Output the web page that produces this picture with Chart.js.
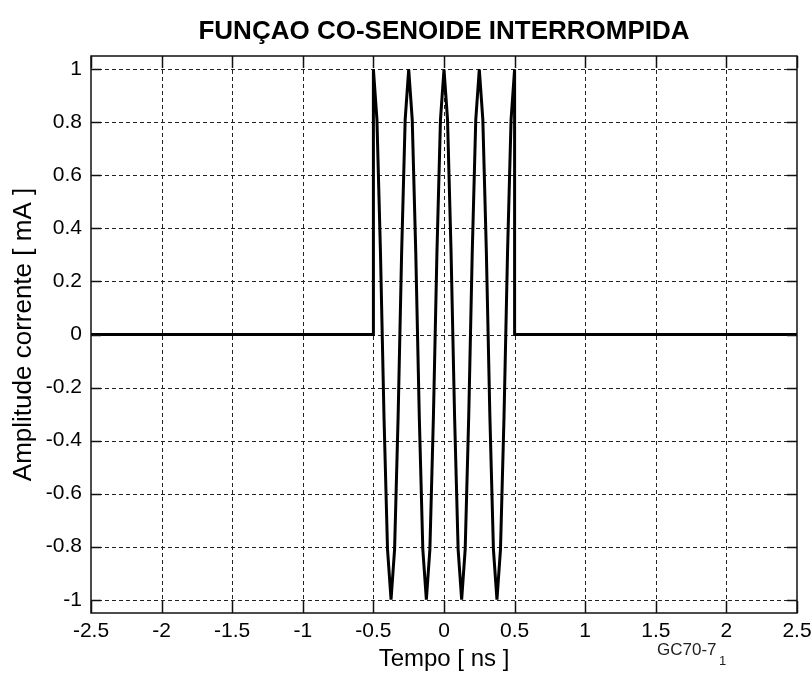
<!DOCTYPE html>
<html lang="pt">
<head>
    <meta charset="UTF-8">
    <title>Função co-senoide interrompida</title>
    <script src="https://cdn.jsdelivr.net/npm/chart.js"></script>
    <style>
        body { margin: 0; background: white; }
        #wrap { width: 812px; height: 675px; }
    </style>
</head>
<body>
    <div id="wrap"><canvas id="pulseChart" width="812" height="675"></canvas></div>

    <script>
        // sampled waveform: zero, then 4 cycles of the cosine between -0.5 and 0.5 ns, then zero
        const timeNs = [
            -2.5, -0.5, -0.5,
            -0.475, -0.45, -0.425, -0.4, -0.375, -0.35, -0.325, -0.3, -0.275, -0.25,
            -0.225, -0.2, -0.175, -0.15, -0.125, -0.1, -0.075, -0.05, -0.025, 0,
            0.025, 0.05, 0.075, 0.1, 0.125, 0.15, 0.175, 0.2, 0.225, 0.25,
            0.275, 0.3, 0.325, 0.35, 0.375, 0.4, 0.425, 0.45, 0.475, 0.5,
            0.5, 2.5
        ];
        const currentMa = [
            0, 0, 1,
            0.81, 0.31, -0.31, -0.81, -1, -0.81, -0.31, 0.31, 0.81, 1,
            0.81, 0.31, -0.31, -0.81, -1, -0.81, -0.31, 0.31, 0.81, 1,
            0.81, 0.31, -0.31, -0.81, -1, -0.81, -0.31, 0.31, 0.81, 1,
            0.81, 0.31, -0.31, -0.81, -1, -0.81, -0.31, 0.31, 0.81, 1,
            0, 0
        ];
        const xTicks = [-2.5, -2, -1.5, -1, -0.5, 0, 0.5, 1, 1.5, 2, 2.5];
        const yTicks = [-1, -0.8, -0.6, -0.4, -0.2, 0, 0.2, 0.4, 0.6, 0.8, 1];

        const FONT = "'Liberation Sans', Arial, sans-serif";
        const TITLE = 'FUNÇAO CO-SENOIDE INTERROMPIDA';

        // dashed grid, box, inward tick marks, title over the axes box
        const frameGrid = {
            id: 'frameGrid',
            beforeDatasetsDraw(chart) {
                const ctx = chart.ctx;
                const { left, right, top, bottom } = chart.chartArea;
                const xs = chart.scales.x, ys = chart.scales.y;
                ctx.save();
                ctx.strokeStyle = '#222';
                ctx.lineWidth = 1;
                ctx.setLineDash([4, 3]);
                ctx.beginPath();
                xTicks.forEach(v => {
                    const px = Math.round(xs.getPixelForValue(v)) + 0.5;
                    if (px < left + 2 || px > right - 2) return;
                    ctx.moveTo(px, top); ctx.lineTo(px, bottom);
                });
                yTicks.forEach(v => {
                    const py = Math.round(ys.getPixelForValue(v)) + 0.5;
                    ctx.moveTo(left, py); ctx.lineTo(right, py);
                });
                ctx.stroke();
                ctx.restore();
            },
            afterDatasetsDraw(chart) {
                const ctx = chart.ctx;
                const { left, right, top, bottom } = chart.chartArea;
                const xs = chart.scales.x, ys = chart.scales.y;
                ctx.save();
                ctx.strokeStyle = '#111';
                ctx.lineWidth = 1.5;
                ctx.beginPath();
                xTicks.forEach(v => {
                    const px = Math.round(xs.getPixelForValue(v)) + 0.5;
                    ctx.moveTo(px, bottom); ctx.lineTo(px, bottom - 12);
                    ctx.moveTo(px, top); ctx.lineTo(px, top + 12);
                });
                yTicks.forEach(v => {
                    const py = Math.round(ys.getPixelForValue(v)) + 0.5;
                    ctx.moveTo(left, py); ctx.lineTo(left + 10, py);
                    ctx.moveTo(right, py); ctx.lineTo(right - 10, py);
                });
                ctx.stroke();
                ctx.strokeRect(left, top, right - left, bottom - top);

                ctx.fillStyle = '#000';
                ctx.textAlign = 'center';
                ctx.textBaseline = 'middle';
                ctx.font = 'bold 26px ' + FONT;
                ctx.fillText(TITLE, (left + right) / 2, 32);

                // figure tag under the x axis
                ctx.fillStyle = '#222';
                ctx.textBaseline = 'alphabetic';
                ctx.textAlign = 'left';
                ctx.font = '17px ' + FONT;
                ctx.fillText('GC70-7', 657, 655);
                ctx.font = '13px ' + FONT;
                ctx.fillText('1', 719, 665);
                ctx.restore();
            }
        };

        new Chart(document.getElementById('pulseChart'), {
            type: 'scatter',
            data: {
                datasets: [{
                    data: timeNs.map((t, i) => ({ x: t, y: currentMa[i] })),
                    showLine: true,
                    borderColor: '#000',
                    borderWidth: 3,
                    pointRadius: 0,
                    tension: 0
                }]
            },
            options: {
                responsive: false,
                animation: false,
                layout: { padding: { left: 0, right: 15, top: 56, bottom: 0 } },
                plugins: {
                    legend: { display: false },
                    tooltip: { enabled: false },
                    title: { display: false }
                },
                scales: {
                    x: {
                        type: 'linear',
                        min: -2.5,
                        max: 2.5,
                        afterBuildTicks: s => { s.ticks = xTicks.map(v => ({ value: v })); },
                        afterFit: s => { s.height = 62; s.paddingLeft = 0; s.paddingRight = 0; },
                        grid: { display: false, drawTicks: false },
                        border: { display: false },
                        ticks: {
                            color: '#000',
                            padding: 6,
                            maxRotation: 0,
                            font: { family: FONT, size: 21 },
                            callback: v => String(v)
                        },
                        title: {
                            display: true,
                            text: 'Tempo [ ns ]',
                            color: '#000',
                            font: { family: FONT, size: 24 },
                            padding: { top: 0, bottom: 1 }
                        }
                    },
                    y: {
                        type: 'linear',
                        min: -1.05,
                        max: 1.05,
                        afterBuildTicks: s => { s.ticks = yTicks.map(v => ({ value: v })); },
                        afterFit: s => { s.width = 91; s.paddingTop = 0; s.paddingBottom = 0; },
                        grid: { display: false, drawTicks: false },
                        border: { display: false },
                        ticks: {
                            color: '#000',
                            padding: 9,
                            font: { family: FONT, size: 21 },
                            callback: v => String(v)
                        },
                        title: {
                            display: true,
                            text: 'Amplitude corrente [ mA ]',
                            color: '#000',
                            font: { family: FONT, size: 26 },
                            padding: { top: 8, bottom: 0 }
                        }
                    }
                }
            },
            plugins: [frameGrid]
        });
    </script>
</body>
</html>
